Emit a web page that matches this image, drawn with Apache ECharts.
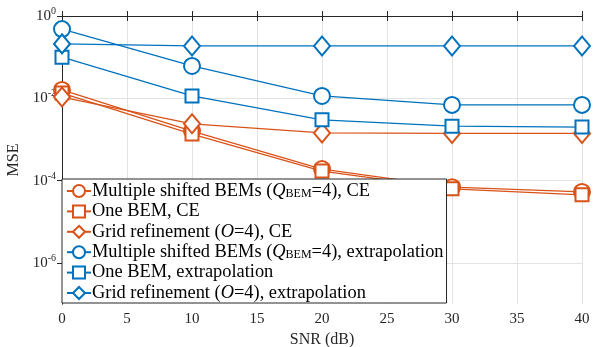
<!DOCTYPE html>
<html>
<head>
<meta charset="utf-8">
<script src="https://cdn.jsdelivr.net/npm/echarts@6/dist/echarts.min.js"></script>
<style>
  html, body { margin: 0; padding: 0; background: #fff; }
  #main { width: 595px; height: 347px; }
</style>
</head>
<body>
<div id="main"></div>
<script>
var snr = [0, 10, 20, 30, 40];
// MSE values
var msCE = [0.016, 0.0016, 1.9e-4, 6.9e-5, 5.3e-5];
var oneCE = [0.0134, 0.00135, 1.7e-4, 6.3e-5, 4.5e-5];
var gridCE = [0.0107, 0.0024, 0.00144, 0.0014, 0.0014];
var msEx = [0.48, 0.061, 0.0114, 0.0069, 0.0069];
var oneEx = [0.1, 0.0114, 0.0030, 0.0021, 0.0020];
var gridEx = [0.21, 0.187, 0.187, 0.187, 0.187];
var yExpMin = -7, yExpMax = 0; // axis range in decades
var yTickExps = [-6, -4, -2, 0];

var orange = '#D95319', blue = '#0072BD';
var axisCol = '#262626';
var font = 'Liberation Serif';

var labels = {
  msCE: '{t|Multiple shifted BEMs (}{i|Q}{s|BEM}{t|=4), CE}',
  oneCE: '{t|One BEM, CE}',
  gridCE: '{t|Grid refinement (}{i|O}{t|=4), CE}',
  msEx: '{t|Multiple shifted BEMs (}{i|Q}{s|BEM}{t|=4), extrapolation}',
  oneEx: '{t|One BEM, extrapolation}',
  gridEx: '{t|Grid refinement (}{i|O}{t|=4), extrapolation}'
};

function mk(name, vals, color, symbol, size) {
  return {
    name: name,
    type: 'line',
    data: snr.map(function (x, i) { return [x, Math.log10(vals[i])]; }),
    symbol: symbol,
    symbolSize: size,
    showAllSymbol: true,
    lineStyle: { color: color, width: 1.3 },
    itemStyle: { color: color, borderColor: color, borderWidth: 1.3 },
    emphasis: { disabled: true },
    z: 3
  };
}

var axisBase = {
  axisLine: { show: true, lineStyle: { color: axisCol, width: 1 } }
};
var xTick = { show: true, inside: true, length: 5, lineStyle: { color: axisCol } };
var yTick = { show: true, inside: true, length: 5, customValues: yTickExps, lineStyle: { color: axisCol } };

var chart = echarts.init(document.getElementById('main'), null, { renderer: 'canvas' });
var option = {
  animation: false,
  backgroundColor: '#fff',
  grid: { left: 62, right: 13, top: 16, bottom: 43, outerBoundsMode: 'none', containLabel: false },
  xAxis: [
    Object.assign({}, axisBase, {
      type: 'value', min: 0, max: 40, interval: 5, position: 'bottom',
      name: 'SNR (dB)', nameLocation: 'middle', nameGap: 26,
      nameTextStyle: { fontFamily: font, fontSize: 16, color: axisCol },
      axisTick: xTick,
      axisLabel: { fontFamily: font, fontSize: 15, color: axisCol, margin: 8 },
      splitLine: { show: true, lineStyle: { color: '#e3e3e3', width: 1 } }
    }),
    Object.assign({}, axisBase, {
      type: 'value', min: 0, max: 40, interval: 5, position: 'top',
      axisTick: xTick,
      axisLabel: { show: false }, splitLine: { show: false }
    })
  ],
  yAxis: [
    Object.assign({}, axisBase, {
      type: 'value', min: yExpMin, max: yExpMax, interval: 1, position: 'left',
      name: 'MSE', nameLocation: 'middle', nameGap: 27,
      nameTextStyle: { fontFamily: font, fontSize: 16, color: axisCol },
      axisTick: yTick,
      axisLabel: {
        margin: 6,
        customValues: yTickExps,
        formatter: function (v) { return '{b|10}{e|' + v + '}'; },
        rich: {
          b: { fontFamily: font, fontSize: 15, color: axisCol },
          e: { fontFamily: font, fontSize: 10, color: axisCol, padding: [0, 0, 9, 0] }
        }
      },
      splitLine: { show: true, lineStyle: { color: '#e3e3e3', width: 1 } }
    }),
    Object.assign({}, axisBase, {
      type: 'value', min: yExpMin, max: yExpMax, interval: 1, position: 'right',
      axisTick: yTick,
      axisLabel: { show: false }, splitLine: { show: false }
    })
  ],
  legend: {
    orient: 'vertical',
    left: 62, top: 179,
    backgroundColor: '#fff',
    borderColor: axisCol, borderWidth: 1,
    padding: [3, 3, 1, 4],
    itemWidth: 24, itemHeight: 15, itemGap: 2.4,
    selectedMode: false,
    data: ['msCE', 'oneCE', 'gridCE', 'msEx', 'oneEx', 'gridEx'],
    formatter: function (n) { return labels[n]; },
    textStyle: {
      padding: [0, 0, 0, -4],
      rich: {
        t: { fontFamily: font, fontSize: 18.4, lineHeight: 15, color: '#000' },
        i: { fontFamily: font, fontSize: 18.4, lineHeight: 15, fontStyle: 'italic', color: '#000' },
        s: { fontFamily: font, fontSize: 12, lineHeight: 15, color: '#000', padding: [6, 0, 0, 0] }
      }
    },
    z: 10
  },
  series: [
    mk('msCE', msCE, orange, 'emptyCircle', 16),
    mk('oneCE', oneCE, orange, 'emptyRect', 13),
    mk('gridCE', gridCE, orange, 'emptyDiamond', [16, 19]),
    mk('msEx', msEx, blue, 'emptyCircle', 16),
    mk('oneEx', oneEx, blue, 'emptyRect', 13),
    mk('gridEx', gridEx, blue, 'emptyDiamond', [16, 19])
  ]
};
chart.setOption(option);
</script>
</body>
</html>
